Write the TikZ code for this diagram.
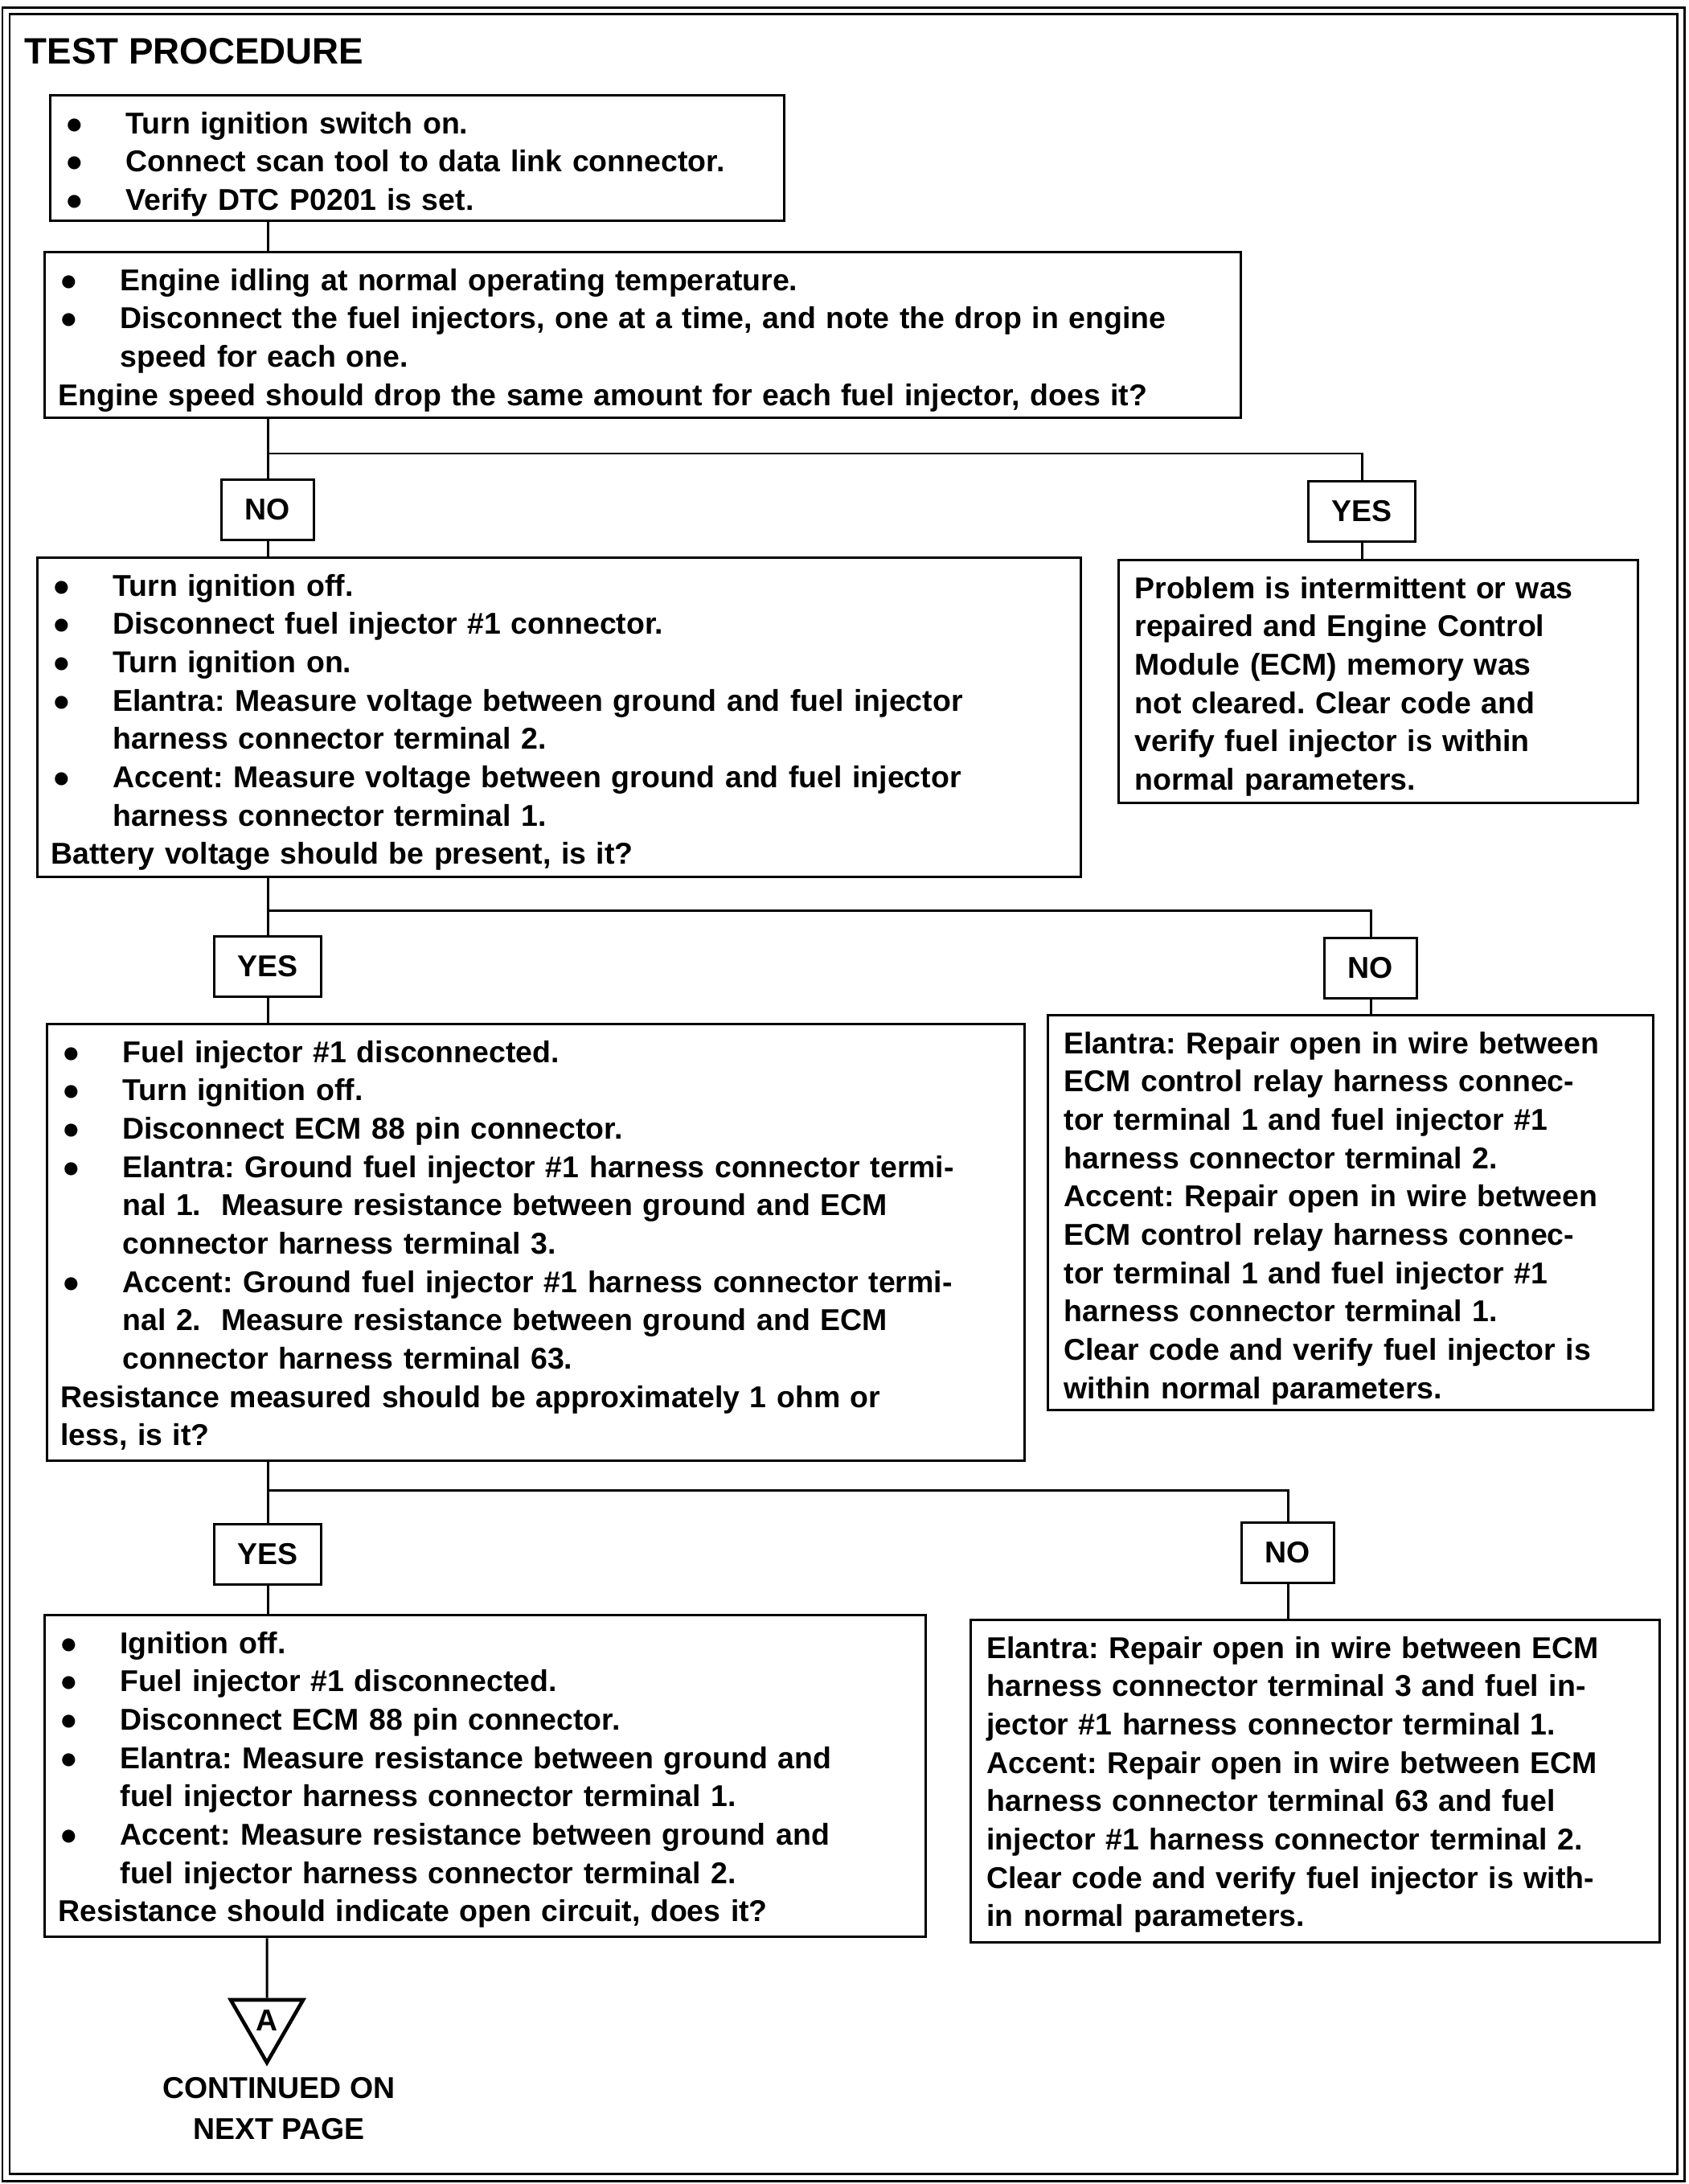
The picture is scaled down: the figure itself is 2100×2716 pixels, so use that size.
\documentclass[tikz,border=0pt]{standalone}
\usepackage{fontspec}
\setmainfont{Liberation Sans}
\usetikzlibrary{shapes.geometric}
\frenchspacing

\newcommand{\bodyfont}{\fontsize{10.65}{13.55}\selectfont\bfseries}
\newcommand{\titlefont}{\fontsize{13}{15}\selectfont\bfseries}
\newlength{\bhang}
\setlength{\bhang}{0.77cm}
\newcommand{\bdot}{\makebox[\bhang][l]{\hspace{0.02cm}●}}
\newcommand{\bitem}{\par\noindent\bdot}
\newcommand{\bcont}{\par\noindent\hspace*{\bhang}}
\newcommand{\bline}{\par\noindent}

\tikzset{
  stepbox/.style={draw, line width=0.85pt, rectangle, anchor=north west,
    inner xsep=0.17cm, inner ysep=0pt, align=left, font=\bodyfont, text height=-0.02cm},
  notebox/.style={stepbox, inner xsep=0.2cm},
  answer/.style={draw, line width=0.85pt, rectangle, minimum height=0.75cm,
    inner xsep=0.29cm, inner ysep=0pt, font=\bodyfont},
  wire/.style={line width=0.85pt}
}

\begin{document}
\begin{tikzpicture}[x=0.01cm, y=-0.01cm]
    \useasboundingbox (0,0) rectangle (2100,2716);
    % frame
    \draw [line width=0.85pt] (3,10) rectangle (2095,2712);
    \draw [line width=0.85pt] (12,18) rectangle (2086,2703);
    \node (title) [anchor=base west, inner sep=0pt, font=\titlefont] at (30,80) {TEST PROCEDURE};

    % steps on the left
    \node (box1) [stepbox, text width=8.78cm, text depth=1.56cm] at (61,117) {%
      \bitem Turn ignition switch on.
      \bitem Connect scan tool to data link connector.
      \bitem Verify DTC P0201 is set.};
    \node (box2) [stepbox, text width=14.53cm, text depth=2.06cm] at (54,312) {%
      \bitem Engine idling at normal operating temperature.
      \bitem Disconnect the fuel injectors, one at a time, and note the drop in engine
      \bcont speed for each one.
      \bline Engine speed should drop the same amount for each fuel injector, does it?};
    \node (box3) [stepbox, text width=12.63cm, text depth=3.97cm] at (45,692) {%
      \bitem Turn ignition off.
      \bitem Disconnect fuel injector \#1 connector.
      \bitem Turn ignition on.
      \bitem Elantra: Measure voltage between ground and fuel injector
      \bcont harness connector terminal 2.
      \bitem Accent: Measure voltage between ground and fuel injector
      \bcont harness connector terminal 1.
      \bline Battery voltage should be present, is it?};
    \node (box5) [stepbox, text width=11.81cm, text depth=5.43cm] at (57,1272) {%
      \bitem Fuel injector \#1 disconnected.
      \bitem Turn ignition off.
      \bitem Disconnect ECM 88 pin connector.
      \bitem Elantra: Ground fuel injector \#1 harness connector termi-
      \bcont nal 1.\ \ Measure resistance between ground and ECM
      \bcont connector harness terminal 3.
      \bitem Accent: Ground fuel injector \#1 harness connector termi-
      \bcont nal 2.\ \ Measure resistance between ground and ECM
      \bcont connector harness terminal 63.
      \bline Resistance measured should be approximately 1 ohm or
      \bline less, is it?};
    \node (box7) [stepbox, text width=10.61cm, text depth=4.00cm] at (54,2007) {%
      \bitem Ignition off.
      \bitem Fuel injector \#1 disconnected.
      \bitem Disconnect ECM 88 pin connector.
      \bitem Elantra: Measure resistance between ground and
      \bcont fuel injector harness connector terminal 1.
      \bitem Accent: Measure resistance between ground and
      \bcont fuel injector harness connector terminal 2.
      \bline Resistance should indicate open circuit, does it?};

    % results on the right
    \node (box4) [notebox, text width=6.06cm, text depth=3.02cm] at (1390,695) {%
      \bline Problem is intermittent or was
      \bline repaired and Engine Control
      \bline Module (ECM) memory was
      \bline not cleared. Clear code and
      \bline verify fuel injector is within
      \bline normal parameters.};
    \node (box6) [notebox, text width=7.13cm, text depth=4.91cm] at (1302,1261) {%
      \bline Elantra: Repair open in wire between
      \bline ECM control relay harness connec-
      \bline tor terminal 1 and fuel injector \#1
      \bline harness connector terminal 2.
      \bline Accent: Repair open in wire between
      \bline ECM control relay harness connec-
      \bline tor terminal 1 and fuel injector \#1
      \bline harness connector terminal 1.
      \bline Clear code and verify fuel injector is
      \bline within normal parameters.};
    \node (box8) [notebox, text width=8.16cm, text depth=4.01cm] at (1206,2013) {%
      \bline Elantra: Repair open in wire between ECM
      \bline harness connector terminal 3 and fuel in-
      \bline jector \#1 harness connector terminal 1.
      \bline Accent: Repair open in wire between ECM
      \bline harness connector terminal 63 and fuel
      \bline injector \#1 harness connector terminal 2.
      \bline Clear code and verify fuel injector is with-
      \bline in normal parameters.};

    % answers
    \node (no1) [answer] at (333,634) {NO};
    \node (yes1) [answer] at (1694,636) {YES};
    \node (yes2) [answer] at (333,1202) {YES};
    \node (no2) [answer] at (1705,1204) {NO};
    \node (yes3) [answer] at (333,1933) {YES};
    \node (no3) [answer] at (1602,1931) {NO};

    \coordinate (br1) at (0,564);
    \coordinate (br2) at (0,1132);
    \coordinate (br3) at (0,1853);

    \draw [wire] (box1.south -| no1) -- (box2.north -| no1);
    \draw [wire] (box2.south -| no1) -- (no1.north);
    \draw [wire] (no1.south) -- (box3.north -| no1);
    \draw [wire] (no1 |- br1) -| (yes1.north);
    \draw [wire] (yes1.south) -- (box4.north -| yes1);

    \draw [wire] (box3.south -| yes2) -- (yes2.north);
    \draw [wire] (yes2.south) -- (box5.north -| yes2);
    \draw [wire] (yes2 |- br2) -| (no2.north);
    \draw [wire] (no2.south) -- (box6.north -| no2);

    \draw [wire] (box5.south -| yes3) -- (yes3.north);
    \draw [wire] (yes3.south) -- (box7.north -| yes3);
    \draw [wire] (yes3 |- br3) -| (no3.north);
    \draw [wire] (no3.south) -- (box8.north -| no3);

    % off-page connector
    \node (tri) [regular polygon, regular polygon sides=3, shape border rotate=180,
      draw, line width=1.3pt, minimum size=1.04cm, inner sep=0pt, font=\bodyfont] at (332,2513) {A};
    \draw [wire] (box7.south -| tri) -- (tri.north);
    \node (next) [align=center, font=\fontsize{10.65}{14.5}\selectfont\bfseries] at (347,2622) {CONTINUED ON\\NEXT PAGE};
\end{tikzpicture}
\end{document}
